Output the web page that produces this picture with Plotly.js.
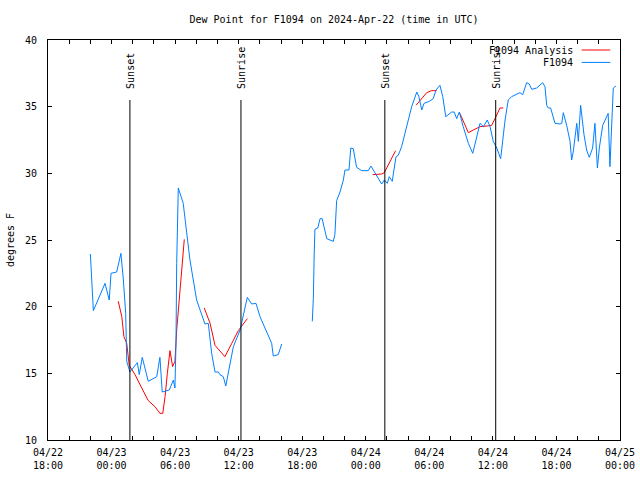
<!DOCTYPE html>
<html>
<head>
<meta charset="utf-8">
<script src="https://cdn.plot.ly/plotly-3.0.1.min.js"></script>
<style>html,body{margin:0;padding:0;background:#fff;}#chart{width:640px;height:480px;}</style>
</head>
<body>
<div id="chart"></div>
<script>
// Observed dew point (F1094), null = data gap
const obsTimes = [
"2024-04-22 22:00","2024-04-22 22:17","2024-04-22 23:23","2024-04-22 23:47","2024-04-22 23:57",
"2024-04-23 00:29","2024-04-23 00:53","2024-04-23 01:07","2024-04-23 01:20","2024-04-23 01:26",
"2024-04-23 01:44","2024-04-23 02:26","2024-04-23 02:37","2024-04-23 02:54","2024-04-23 03:28",
"2024-04-23 04:16","2024-04-23 04:34","2024-04-23 04:47","2024-04-23 05:27","2024-04-23 05:50",
"2024-04-23 05:59","2024-04-23 06:05","2024-04-23 06:09","2024-04-23 06:18","2024-04-23 06:46",
"2024-04-23 07:24","2024-04-23 08:02","2024-04-23 08:49","2024-04-23 09:08","2024-04-23 09:27",
"2024-04-23 09:46","2024-04-23 10:05","2024-04-23 10:14","2024-04-23 10:33","2024-04-23 10:47",
"2024-04-23 11:01","2024-04-23 11:30","2024-04-23 12:08","2024-04-23 12:49","2024-04-23 13:14",
"2024-04-23 13:38","2024-04-23 14:01","2024-04-23 15:07","2024-04-23 15:16","2024-04-23 15:44",
"2024-04-23 16:04","2024-04-23 17:30",
"2024-04-23 18:57","2024-04-23 19:03","2024-04-23 19:08","2024-04-23 19:12","2024-04-23 19:28",
"2024-04-23 19:41","2024-04-23 19:53","2024-04-23 20:19","2024-04-23 20:56","2024-04-23 21:05",
"2024-04-23 21:15","2024-04-23 21:34","2024-04-23 21:53","2024-04-23 22:02","2024-04-23 22:25",
"2024-04-23 22:35","2024-04-23 22:49","2024-04-23 23:08","2024-04-23 23:37","2024-04-24 00:14",
"2024-04-24 00:29","2024-04-24 01:05","2024-04-24 01:30","2024-04-24 01:45","2024-04-24 02:02",
"2024-04-24 02:13","2024-04-24 02:30","2024-04-24 02:51","2024-04-24 03:04","2024-04-24 03:23",
"2024-04-24 03:42","2024-04-24 04:20","2024-04-24 04:49","2024-04-24 05:01","2024-04-24 05:17",
"2024-04-24 05:30","2024-04-24 06:00","2024-04-24 06:22","2024-04-24 06:38","2024-04-24 07:00",
"2024-04-24 07:16","2024-04-24 07:33","2024-04-24 08:07","2024-04-24 08:21","2024-04-24 08:35",
"2024-04-24 08:50","2024-04-24 09:12","2024-04-24 09:41","2024-04-24 10:06","2024-04-24 10:28",
"2024-04-24 10:47","2024-04-24 11:06","2024-04-24 11:28","2024-04-24 11:44","2024-04-24 12:02",
"2024-04-24 12:22","2024-04-24 12:44","2024-04-24 13:09","2024-04-24 13:27","2024-04-24 13:46",
"2024-04-24 14:15","2024-04-24 14:33","2024-04-24 14:49","2024-04-24 15:11","2024-04-24 15:26",
"2024-04-24 15:40","2024-04-24 16:08","2024-04-24 16:42","2024-04-24 16:55","2024-04-24 17:05",
"2024-04-24 17:14","2024-04-24 17:27","2024-04-24 17:52","2024-04-24 18:20","2024-04-24 18:30",
"2024-04-24 18:39","2024-04-24 18:58","2024-04-24 19:17","2024-04-24 19:26","2024-04-24 19:35",
"2024-04-24 19:55","2024-04-24 20:04","2024-04-24 20:17","2024-04-24 20:36","2024-04-24 20:51",
"2024-04-24 21:06","2024-04-24 21:25","2024-04-24 21:38","2024-04-24 21:52","2024-04-24 22:03",
"2024-04-24 22:22","2024-04-24 22:53","2024-04-24 23:03","2024-04-24 23:22","2024-04-24 23:37"
];
const obsValues = [
23.95,19.7,21.75,20.5,22.5,
22.6,24.0,22.0,19.5,15.9,
15.1,15.8,14.9,16.2,14.4,
14.75,16.2,13.6,13.75,14.5,
13.9,17.25,23.25,28.9,27.75,
23.5,20.5,18.7,18.75,16.5,
15.1,15.1,14.9,14.75,14.05,
15.0,17.0,18.25,20.7,20.2,
20.25,19.25,17.25,16.3,16.4,
17.2,null,
18.9,20.6,24.1,25.8,25.9,
26.6,26.6,25.1,24.9,25.4,
27.95,28.6,29.5,30.25,30.25,
31.9,31.85,30.45,30.2,30.2,
30.55,29.75,29.2,29.5,29.25,
29.75,29.4,31.25,31.35,32.0,
33.0,35.0,36.1,35.75,34.75,
35.25,35.4,35.6,36.25,36.6,
35.75,34.25,34.6,34.6,34.1,
34.6,33.5,32.25,31.5,32.75,
33.75,33.5,34.0,33.5,32.4,
31.9,31.1,34.0,35.5,35.75,
35.95,36.05,35.9,36.8,36.7,
36.3,36.4,36.8,36.5,35.1,
34.9,34.9,33.75,33.7,33.75,
34.55,33.6,32.4,31.0,31.6,
33.75,32.4,35.1,32.9,31.75,
31.2,31.9,33.75,30.4,31.9,
33.6,34.5,30.5,36.4,36.55
];

// Analysis dew point (F1094 Analysis), null = gap
const anaTimes = [
"2024-04-23 00:38","2024-04-23 00:58","2024-04-23 01:10","2024-04-23 01:26","2024-04-23 01:40",
"2024-04-23 02:13","2024-04-23 02:51","2024-04-23 03:28","2024-04-23 04:06","2024-04-23 04:34",
"2024-04-23 04:50","2024-04-23 05:03","2024-04-23 05:16","2024-04-23 05:31","2024-04-23 05:46",
"2024-04-23 05:59","2024-04-23 06:09","2024-04-23 06:28","2024-04-23 06:52","2024-04-23 07:50",
"2024-04-23 08:45","2024-04-23 09:18","2024-04-23 09:46","2024-04-23 10:42","2024-04-23 11:21",
"2024-04-23 11:58","2024-04-23 12:49","2024-04-23 18:00",
"2024-04-24 00:39","2024-04-24 01:30","2024-04-24 01:45","2024-04-24 02:17","2024-04-24 02:49",
"2024-04-24 03:50",
"2024-04-24 04:45","2024-04-24 05:11","2024-04-24 05:45","2024-04-24 06:13","2024-04-24 06:41",
"2024-04-24 07:50",
"2024-04-24 08:53","2024-04-24 09:41","2024-04-24 10:09","2024-04-24 10:47","2024-04-24 11:28",
"2024-04-24 11:53","2024-04-24 12:12","2024-04-24 12:40","2024-04-24 12:59"
];
const anaValues = [
20.4,19.25,17.75,17.25,15.6,
14.9,13.9,12.95,12.5,12.0,
12.0,13.25,15.0,16.7,15.5,
15.9,18.25,21.5,25.05,null,
19.9,18.75,17.1,16.25,17.25,
18.2,19.1,null,
29.9,29.95,30.05,30.9,31.7,
null,
35.1,35.5,36.05,36.2,36.2,
null,
34.5,33.05,33.25,33.5,33.55,
33.6,34.1,34.9,34.9
];

const seriesNames = ["F1094 Analysis", "F1094"];
const seriesColors = ["#ff0000", "#0080ff"];

// Sunset / sunrise markers
const eventTimes = ["2024-04-23 01:44","2024-04-23 12:13","2024-04-24 01:48","2024-04-24 12:16"];
const eventLabels = ["Sunset","Sunrise","Sunset","Sunrise"];
const eventTop = 35.5;

// Axis ticks
const xTickVals = ["2024-04-22 18:00","2024-04-23 00:00","2024-04-23 06:00","2024-04-23 12:00","2024-04-23 18:00",
                   "2024-04-24 00:00","2024-04-24 06:00","2024-04-24 12:00","2024-04-24 18:00","2024-04-25 00:00"];
const xTickText = ["04/22<br>18:00","04/23<br>00:00","04/23<br>06:00","04/23<br>12:00","04/23<br>18:00",
                   "04/24<br>00:00","04/24<br>06:00","04/24<br>12:00","04/24<br>18:00","04/25<br>00:00"];
const yTickVals = [10,15,20,25,30,35,40];

const FONT = "DejaVu Sans Mono, Liberation Mono, monospace";

const traces = [
  {x: anaTimes, y: anaValues, type: "scatter", mode: "lines", name: seriesNames[0],
   line: {color: seriesColors[0], width: 1}, connectgaps: false, showlegend: false},
  {x: obsTimes, y: obsValues, type: "scatter", mode: "lines", name: seriesNames[1],
   line: {color: seriesColors[1], width: 1}, connectgaps: false, showlegend: false}
];

const shapes = eventTimes.map(t => ({
  type: "line", xref: "x", yref: "y", x0: t, x1: t, y0: 10, y1: eventTop,
  line: {color: "#000", width: 1}
}));

const annotations = eventTimes.map((t, i) => ({
  x: t, y: eventTop, xref: "x", yref: "y", text: eventLabels[i],
  textangle: -90, showarrow: false, xanchor: "center", yanchor: "bottom", yshift: 9,
  font: {family: FONT, size: 10, color: "#000"}
}));

// Custom legend (text on the left, line sample on the right)
const legY = [0.975, 0.944];
seriesNames.forEach((nm, i) => {
  annotations.push({
    xref: "paper", yref: "paper", x: 0.921, y: legY[i], text: nm, showarrow: false,
    xanchor: "right", yanchor: "middle", font: {family: FONT, size: 10, color: "#000"}
  });
  shapes.push({
    type: "line", xref: "paper", yref: "paper", x0: 0.933, x1: 0.983, y0: legY[i], y1: legY[i],
    line: {color: seriesColors[i], width: 1}
  });
});

const layout = {
  width: 640, height: 480,
  margin: {l: 48, r: 20, t: 40, b: 40, pad: 0},
  paper_bgcolor: "#fff", plot_bgcolor: "#fff",
  font: {family: FONT, size: 10, color: "#000"},
  title: {text: "Dew Point for F1094 on 2024-Apr-22 (time in UTC)", x: 0.5, xref: "paper",
          y: 1 - 19/480, yanchor: "middle", font: {family: FONT, size: 10, color: "#000"}},
  showlegend: false,
  xaxis: {
    type: "date", range: ["2024-04-22 18:00", "2024-04-25 00:00"],
    tickmode: "array", tickvals: xTickVals, ticktext: xTickText,
    ticks: "inside", ticklen: 4, tickcolor: "#000", tickwidth: 1,
    minor: {dtick: 7200000, tick0: "2024-04-22 18:00", ticks: "inside", ticklen: 4, tickcolor: "#000", showgrid: false},
    showline: true, linecolor: "#000", linewidth: 1, mirror: "allticks",
    showgrid: false, zeroline: false, ticklabelstandoff: 3,
    tickfont: {family: FONT, size: 10, color: "#000"}
  },
  yaxis: {
    range: [10, 40], tickmode: "array", tickvals: yTickVals,
    ticks: "inside", ticklen: 4, tickcolor: "#000", tickwidth: 1,
    showline: true, linecolor: "#000", linewidth: 1, mirror: "allticks",
    showgrid: false, zeroline: false, ticklabelstandoff: 8,
    tickfont: {family: FONT, size: 10, color: "#000"},
    title: {text: "degrees F", standoff: 8, font: {family: FONT, size: 10, color: "#000"}}
  },
  shapes: shapes,
  annotations: annotations
};

Plotly.newPlot("chart", traces, layout, {staticPlot: true, displayModeBar: false});
</script>
</body>
</html>
